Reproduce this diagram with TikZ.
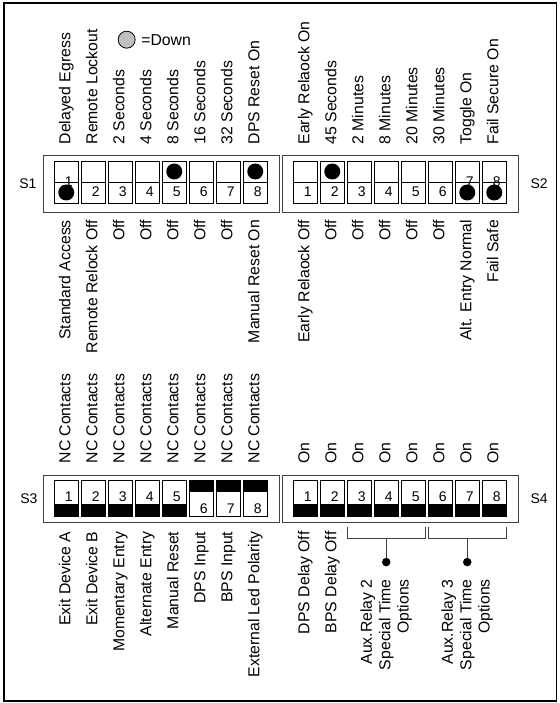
\documentclass[tikz,border=0pt]{standalone}
\usepackage{fontspec}
\setmainfont{Liberation Sans}
\usepackage{tikz}
\usetikzlibrary{positioning}

\begin{document}
\begin{tikzpicture}[
    x=1pt, y=-1pt,
    bank/.style = {
        rectangle,
        draw=black!75,
        line width=0.8pt,
        minimum width=236.5pt,
        minimum height=#1,
        inner sep=0pt
    },
    dip/.style = {
        rectangle,
        draw=black,
        line width=0.8pt,
        minimum width=23.5pt,
        minimum height=#1,
        inner sep=0pt
    },
    rocker/.style = {
        dip=42pt,
        path picture={\draw[line width=0.8pt] (path picture bounding box.west) -- (path picture bounding box.east);}
    },
    slide low/.style = {
        dip=36pt,
        path picture={\fill (path picture bounding box.south west) rectangle ([yshift=12.5pt]path picture bounding box.south east);}
    },
    slide high/.style = {
        dip=36pt,
        path picture={\fill ([yshift=-12pt]path picture bounding box.north west) rectangle (path picture bounding box.north east);}
    },
    knob/.style = {circle, fill=black, minimum size=16pt, inner sep=0pt},
    jointdot/.style = {circle, fill=black, minimum size=8.5pt, inner sep=0pt},
    num/.style = {font=\fontsize{14}{16}\selectfont, inner sep=0pt},
    setting/.style = {
        rotate=90,
        font=\fontsize{15.8}{18.4}\selectfont,
        inner sep=0pt,
        text height=11.5pt,
        text depth=3.3pt
    },
    setting block/.style = {
        rotate=90,
        font=\fontsize{15.8}{18.4}\selectfont,
        inner sep=0pt,
        align=right
    },
    bracket/.style = {draw=black!75, line width=0.8pt}
]

\useasboundingbox (0,0) rectangle (559,703);
\draw[line width=1.6pt] (4,3) rectangle (556.5,701);

\node[circle, draw, fill=gray!50, line width=0.8pt, minimum size=17pt, inner sep=0pt] (downkey) at (126.7, 39.7) {};
\node[num, font=\fontsize{15.8}{18.4}\selectfont, right=5.5pt of downkey] (downtxt) {=Down};

\node[bank=57pt] (bank1) at (161.25, 183.5) {};
\node[bank=57pt] (bank2) at (400.25, 183.5) {};
\node[bank=47pt] (bank3) at (161.25, 498.5) {};
\node[bank=47pt] (bank4) at (400.25, 498.5) {};

\node[num, left=6pt of bank1] (s1) {S1};
\node[num, right=11.5pt of bank2] (s2) {S2};
\node[num, left=5pt of bank3] (s3) {S3};
\node[num, right=11.5pt of bank4] (s4) {S4};

\foreach \i in {1,...,8} {
    \node[rocker] (a\i) at ({39.25+27*\i}, 182) {};
    \node[rocker] (b\i) at ({278.25+27*\i}, 182) {};
    \node[slide low] (d\i) at ({278.25+27*\i}, 498) {};
    \node[num] (nd\i) at ([xshift=2.5pt, yshift=1.5pt]d\i.center) {\i};
}
\foreach \i in {1,...,5} {
    \node[slide low] (c\i) at ({39.25+27*\i}, 498) {};
    \node[num] (nc\i) at ([xshift=2.5pt, yshift=1.5pt]c\i.center) {\i};
}
\foreach \i in {6,7,8} {
    \node[slide high] (c\i) at ({39.25+27*\i}, 498) {};
    \node[num] (nc\i) at ([xshift=2.5pt, yshift=-11pt]c\i.center) {\i};
}

\node[knob] (ka1) at ([yshift=-10.5pt]a1.center) {};
\node[knob] (ka5) at ([yshift=10.5pt]a5.center) {};
\node[knob] (ka8) at ([yshift=10.5pt]a8.center) {};
\node[knob] (kb2) at ([yshift=10.5pt]b2.center) {};
\node[knob] (kb7) at ([yshift=-10.5pt]b7.center) {};
\node[knob] (kb8) at ([yshift=-10.5pt]b8.center) {};

\node[num] (na1) at ([xshift=2.5pt]a1.center) {1};
\foreach \i in {2,...,8}
    \node[num] (na\i) at ([xshift=2.5pt, yshift=-10pt]a\i.center) {\i};
\foreach \i in {1,...,6}
    \node[num] (nb\i) at ([xshift=2.5pt, yshift=-10pt]b\i.center) {\i};
\node[num] (nb7) at ([xshift=2.5pt]b7.center) {7};
\node[num] (nb8) at ([xshift=2.5pt]b8.center) {8};

\foreach \txt [count=\i] in {Delayed Egress, Remote Lockout, 2 Seconds, 4 Seconds, 8 Seconds, 16 Seconds, 32 Seconds, DPS Reset On}
    \node[setting, anchor=west] (ta\i) at ([yshift=16pt]a\i.north) {\txt};
\foreach \txt [count=\i] in {Standard Access, Remote Relock Off, Off, Off, Off, Off, Off, Manual Reset On}
    \node[setting, anchor=east] (ba\i) at ([yshift=-16.5pt]a\i.south) {\txt};

\foreach \txt [count=\i] in {Early Relaock On, 45 Seconds, 2 Minutes, 8 Minutes, 20 Minutes, 30 Minutes, Toggle On, Fail Secure On}
    \node[setting, anchor=west] (tb\i) at ([yshift=16pt]b\i.north) {\txt};
\foreach \txt [count=\i] in {Early Relaock Off, Off, Off, Off, Off, Off, Alt. Entry Normal, Fail Safe}
    \node[setting, anchor=east] (bb\i) at ([yshift=-16.5pt]b\i.south) {\txt};

\foreach \i in {1,...,8} {
    \node[setting, anchor=west] (tc\i) at ([yshift=16pt]c\i.north) {NC Contacts};
    \node[setting, anchor=west] (td\i) at ([yshift=16pt]d\i.north) {On};
}
\foreach \txt [count=\i] in {Exit Device A, Exit Device B, Momentary Entry, Alternate Entry, Manual Reset, DPS Input, BPS Input, External Led Polarity}
    \node[setting, anchor=east] (bc\i) at ([yshift=-15pt]c\i.south) {\txt};
\node[setting, anchor=east] (bd1) at ([yshift=-15pt]d1.south) {DPS Delay Off};
\node[setting, anchor=east] (bd2) at ([yshift=-15pt]d2.south) {BPS Delay Off};

\node[jointdot] (aux2) at ([yshift=-45.7pt]d4.south) {};
\node[jointdot] (aux3) at ([yshift=-45.7pt]d7.south) {};
\coordinate (aux2top) at ([yshift=-22pt]d4.south);
\coordinate (aux3top) at ([yshift=-22pt]d7.south);

\draw[bracket] ([yshift=-11pt]d3.south west) -- ([yshift=-22pt]d3.south west)
    -- ([yshift=-22pt]d5.south east) -- ([yshift=-11pt]d5.south east);
\draw[bracket] ([yshift=-11pt]d6.south west) -- ([yshift=-22pt]d6.south west)
    -- ([yshift=-22pt]d8.south east) -- ([yshift=-11pt]d8.south east);
\draw[bracket] (aux2top) -- (aux2);
\draw[bracket] (aux3top) -- (aux3);

\node[setting block, anchor=east] (aux2txt) at ([yshift=-17pt]aux2.center) {Aux.Relay 2\\Special Time\\Options};
\node[setting block, anchor=east] (aux3txt) at ([yshift=-17pt]aux3.center) {Aux.Relay 3\\Special Time\\Options};

\end{tikzpicture}
\end{document}
